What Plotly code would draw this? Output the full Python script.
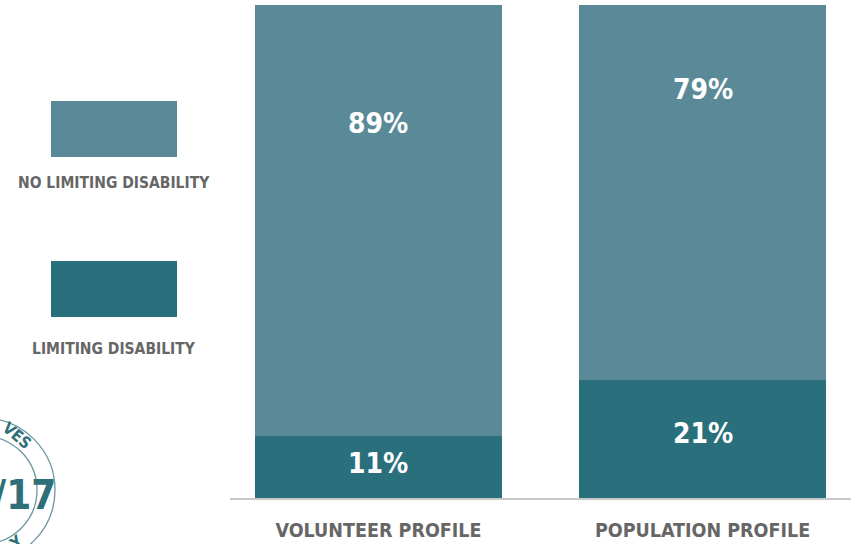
import plotly.graph_objects as go

categories = ["VOLUNTEER PROFILE", "POPULATION PROFILE"]
limiting = [11, 21]
no_limiting = [89, 79]
series_names = ["LIMITING DISABILITY", "NO LIMITING DISABILITY"]
colors = {"LIMITING DISABILITY": "#2a707c", "NO LIMITING DISABILITY": "#5a8a97"}

W, H = 851, 544
L, R, T, B = 230, 0, 5, 46
PW, PH = W - L - R, H - T - B
YMAX = 87.6

FONT = "DejaVu Sans Condensed, Liberation Sans Narrow, sans-serif"
GREY = "#666666"


def px(x):
    return (x - L) / PW


def py(y):
    return (H - B - y) / PH


fig = go.Figure()
fig.add_trace(go.Bar(x=categories, y=limiting, name=series_names[0],
                     marker=dict(color=colors[series_names[0]], line=dict(width=0)),
                     width=0.762, showlegend=False, hoverinfo="skip"))
fig.add_trace(go.Bar(x=categories, y=no_limiting, name=series_names[1],
                     marker=dict(color=colors[series_names[1]], line=dict(width=0)),
                     width=0.762, showlegend=False, hoverinfo="skip"))

annotations = []
for c, lo, hi in zip(categories, limiting, no_limiting):
    annotations.append(dict(x=c, y=lo / 2 * 1.1, xref="x", yref="y", text=f"{lo}%",
                            showarrow=False,
                            font=dict(family=FONT, size=28, color="white", weight="bold")))
    annotations.append(dict(x=c, y=(lo + hi / 2) * 1.2, xref="x", yref="y", text=f"{hi}%",
                            showarrow=False,
                            font=dict(family=FONT, size=28, color="white", weight="bold")))

shapes = []
legend_items = [(series_names[1], 101, 157, 183), (series_names[0], 261, 317, 349)]
for name, y0, y1, ty in legend_items:
    shapes.append(dict(type="rect", xref="paper", yref="paper",
                       x0=px(51), x1=px(177), y0=py(y1), y1=py(y0),
                       fillcolor=colors[name], line=dict(width=0)))
    annotations.append(dict(x=px(114), y=py(ty), xref="paper", yref="paper",
                            text=name, showarrow=False, xanchor="center", yanchor="middle",
                            font=dict(family=FONT, size=15.5, color=GREY, weight="bold")))

LOGO = "#2f6f7a"
RING = "#6a979f"
for r in (72, 54):
    shapes.append(dict(type="circle", xref="paper", yref="paper",
                       x0=px(-17 - r), x1=px(-17 + r), y0=py(490 + r), y1=py(490 - r),
                       line=dict(color=RING, width=1.3), fillcolor="rgba(0,0,0,0)"))
annotations.append(dict(x=px(58), y=py(495), xref="paper", yref="paper", text="16/17",
                        showarrow=False, xanchor="right", yanchor="middle",
                        font=dict(family=FONT, size=40, color=LOGO, weight="bold")))
annotations.append(dict(x=px(-4), y=py(456), xref="paper", yref="paper", text="VES",
                        showarrow=False, textangle=40,
                        font=dict(family=FONT, size=16, color=LOGO, weight="bold")))
annotations.append(dict(x=px(2), y=py(556), xref="paper", yref="paper", text="Y",
                        showarrow=False, textangle=-40,
                        font=dict(family=FONT, size=16, color=LOGO, weight="bold")))

fig.update_layout(
    width=W, height=H,
    margin=dict(l=L, r=R, t=T, b=B, pad=0, autoexpand=False),
    barmode="stack",
    plot_bgcolor="white", paper_bgcolor="white",
    shapes=shapes, annotations=annotations,
    xaxis=dict(range=[-0.458, 1.458], showline=True, linecolor="#c8c8c8", linewidth=1.5,
               showgrid=False, zeroline=False, ticks="outside", ticklen=14,
               tickcolor="rgba(0,0,0,0)", automargin=False,
               tickfont=dict(family=FONT, size=19.5, color=GREY, weight="bold")),
    yaxis=dict(range=[0, YMAX], visible=False, showgrid=False, zeroline=False,
               automargin=False),
)

fig.write_html("out.html", config={"displayModeBar": False},
               post_script="document.body.style.margin='0';document.body.style.overflow='hidden';")
